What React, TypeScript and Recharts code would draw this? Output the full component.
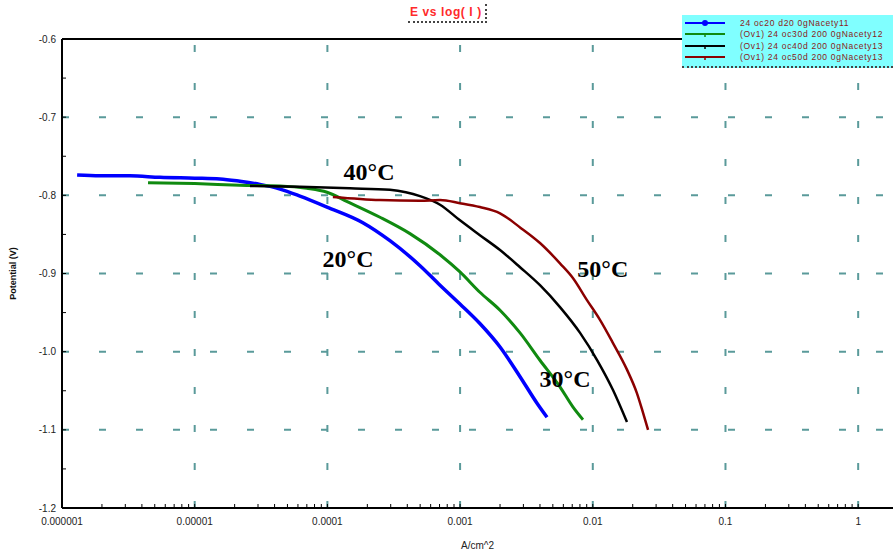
import React from 'react';
import { LineChart, Line, XAxis, YAxis, ReferenceLine, ReferenceDot } from 'recharts';

// current density (A/cm^2) and potential (V) per temperature
const t20Current = [1.3e-6, 1.93e-6, 3.25e-6, 5.48e-6, 1.0e-5, 1.55e-5, 2.19e-5, 3.1e-5, 4.4e-5, 6.21e-5, 9.93e-5, 1.85e-4, 2.96e-4, 4.99e-4, 7.06e-4, 9.98e-4, 1.41e-3, 2.0e-3, 2.83e-3, 3.8e-3, 4.52e-3];
const t20Potential = [-0.774, -0.775, -0.775, -0.777, -0.778, -0.779, -0.782, -0.786, -0.792, -0.801, -0.815, -0.835, -0.858, -0.89, -0.915, -0.939, -0.964, -0.994, -1.032, -1.066, -1.084];

const t30Current = [4.45e-6, 1.0e-5, 2.19e-5, 4.4e-5, 7.0e-5, 9.93e-5, 1.41e-4, 2.49e-4, 4.19e-4, 7.06e-4, 9.98e-4, 1.41e-3, 2.0e-3, 2.83e-3, 4.0e-3, 5.66e-3, 7.1e-3, 8.43e-3];
const t30Potential = [-0.784, -0.785, -0.787, -0.788, -0.791, -0.796, -0.808, -0.828, -0.849, -0.876, -0.898, -0.924, -0.947, -0.976, -1.011, -1.045, -1.071, -1.087];

const t40Current = [2.61e-5, 6.21e-5, 1.48e-4, 2.96e-4, 3.9e-4, 4.99e-4, 7.06e-4, 9.98e-4, 1.41e-3, 2.0e-3, 2.83e-3, 4.0e-3, 5.66e-3, 8.02e-3, 1.08e-2, 1.42e-2, 1.81e-2];
const t40Potential = [-0.788, -0.789, -0.791, -0.793, -0.796, -0.801, -0.812, -0.832, -0.851, -0.87, -0.892, -0.915, -0.943, -0.976, -1.011, -1.049, -1.09];

const t50Current = [1.1e-4, 2.49e-4, 4.99e-4, 7.06e-4, 9.98e-4, 1.41e-3, 2.0e-3, 2.83e-3, 4.0e-3, 5.66e-3, 7.1e-3, 9.04e-3, 1.13e-2, 1.42e-2, 1.81e-2, 2.15e-2, 2.39e-2, 2.61e-2];
const t50Potential = [-0.802, -0.806, -0.807, -0.806, -0.81, -0.815, -0.823, -0.841, -0.861, -0.887, -0.906, -0.934, -0.959, -0.989, -1.023, -1.053, -1.078, -1.1];

const seriesNames = [
  '24 oc20 d20 0gNacety11',
  '(Ov1) 24 oc30d 200 0gNacety12',
  '(Ov1) 24 oc40d 200 0gNacety13',
  '(Ov1) 24 oc50d 200 0gNacety13',
];
const seriesColors = ['#0000ff', '#108a10', '#000000', '#8b0000'];

const decadeTicks = [1e-6, 1e-5, 1e-4, 1e-3, 1e-2, 1e-1, 1];
const decadeLabels = ['0.000001', '0.00001', '0.0001', '0.001', '0.01', '0.1', '1'];
const potentialTicks = [-0.6, -0.7, -0.8, -0.9, -1.0, -1.1, -1.2];

const tempLabels = ['40°C', '20°C', '50°C', '30°C'];
const tempLabelCurrent = [2.06e-4, 1.43e-4, 0.0119, 0.00618];
const tempLabelPotential = [-0.769, -0.881, -0.894, -1.034];

const toPoints = (cur: number[], pot: number[]) => cur.map((c, i) => ({ i: c, e: pot[i] }));
const seriesData = [
  toPoints(t20Current, t20Potential),
  toPoints(t30Current, t30Potential),
  toPoints(t40Current, t40Potential),
  toPoints(t50Current, t50Potential),
];

// minor ticks 2..9 inside each decade
const xTicks: number[] = [];
decadeTicks.forEach((d, k) => {
  xTicks.push(d);
  if (k < decadeTicks.length - 1) for (let m = 2; m <= 9; m++) xTicks.push(m * d);
});
const yTicks: number[] = [];
potentialTicks.forEach((p, k) => {
  yTicks.push(p);
  if (k < potentialTicks.length - 1) yTicks.push(p - 0.05);
});

const xFormatter = (v: number) => {
  const idx = decadeTicks.findIndex(d => Math.abs(v / d - 1) < 1e-6);
  return idx >= 0 ? decadeLabels[idx] : '';
};
const yFormatter = (v: number) =>
  potentialTicks.some(p => Math.abs(p - v) < 1e-6) ? v.toFixed(1) : '';

const FONT = '"Liberation Sans", Arial, sans-serif';
const gridStroke = '#5a9a9a';
const lineWidths = [3.5, 3, 2.5, 2.5];

export default function App() {
  return (
    <div style={{ position: 'absolute', left: 0, top: 0, width: 893, height: 554, background: '#fff', overflow: 'hidden' }}>
      <LineChart width={893} height={554} margin={{ top: 39, right: 0, bottom: 0, left: 0 }}>
        <XAxis
          dataKey="i"
          type="number"
          scale="log"
          domain={[1e-6, 1.83]}
          allowDataOverflow
          ticks={xTicks}
          interval={0}
          tickFormatter={xFormatter}
          height={46}
          tickSize={-4}
          tickMargin={14}
          tick={{ fill: '#222', fontSize: 10, fontFamily: FONT }}
          tickLine={{ stroke: '#000' }}
          axisLine={{ stroke: '#000', strokeWidth: 2 }}
          label={{ value: 'A/cm^2', position: 'insideBottom', offset: 5, fill: '#222', fontSize: 10, fontFamily: FONT }}
        />
        <YAxis
          type="number"
          domain={[-1.2, -0.6]}
          allowDataOverflow
          ticks={yTicks}
          interval={0}
          tickFormatter={yFormatter}
          width={62}
          tickSize={-4}
          tickMargin={10}
          tick={{ fill: '#222', fontSize: 10, fontFamily: FONT }}
          tickLine={{ stroke: '#000' }}
          axisLine={{ stroke: '#000', strokeWidth: 2 }}
          label={{
            value: 'Potential (V)',
            angle: -90,
            position: 'insideLeft',
            offset: 13,
            fill: '#111',
            fontSize: 9,
            fontWeight: 'bold',
            fontFamily: FONT,
            style: { textAnchor: 'middle' },
          }}
        />
        {potentialTicks.slice(1, -1).map(p => (
          <ReferenceLine key={'h' + p} y={p} stroke={gridStroke} strokeWidth={2} strokeDasharray="7 30" />
        ))}
        {decadeTicks.slice(1).map(d => (
          <ReferenceLine key={'v' + d} x={d} stroke={gridStroke} strokeWidth={2} strokeDasharray="7 31" />
        ))}
        <ReferenceLine y={-0.6} stroke="#000" strokeWidth={2} />
        {seriesData.map((data, k) => (
          <Line
            key={seriesNames[k]}
            data={data}
            dataKey="e"
            name={seriesNames[k]}
            type="monotone"
            stroke={seriesColors[k]}
            strokeWidth={lineWidths[k]}
            dot={false}
            isAnimationActive={false}
          />
        ))}
        {tempLabels.map((t, k) => (
          <ReferenceDot
            key={t}
            x={tempLabelCurrent[k]}
            y={tempLabelPotential[k]}
            r={0}
            fill="none"
            stroke="none"
            label={{
              value: t,
              position: 'center',
              fill: '#000',
              fontSize: 24,
              fontWeight: 'bold',
              fontFamily: '"Liberation Serif", "Times New Roman", serif',
            }}
          />
        ))}
      </LineChart>

      <div
        style={{
          position: 'absolute',
          left: 408,
          top: 4,
          padding: '1px 3px 1px 2px',
          fontFamily: FONT,
          fontSize: 12,
          fontWeight: 'bold',
          letterSpacing: 0.6,
          color: '#ff2a2a',
          borderRight: '2px dotted #444',
          borderBottom: '2px dotted #444',
          lineHeight: '15px',
        }}
      >
        E vs log( I )
      </div>

      <div
        style={{
          position: 'absolute',
          left: 682,
          top: 15,
          width: 215,
          height: 51,
          background: '#80ffff',
          borderBottom: '2px dotted #444',
        }}
      >
        {seriesNames.map((n, k) => (
          <div key={n} style={{ display: 'flex', alignItems: 'center', height: 11.5, marginTop: k === 0 ? 2 : 0 }}>
            <svg width={55} height={8} style={{ marginLeft: 3, flex: 'none' }}>
              <line x1={0} y1={4} x2={40} y2={4} stroke={seriesColors[k]} strokeWidth={2} />
              {k === 0 ? (
                <circle cx={20} cy={4} r={3} fill={seriesColors[k]} />
              ) : (
                <line x1={20} y1={4} x2={20} y2={7} stroke={seriesColors[k]} strokeWidth={1.5} />
              )}
            </svg>
            <span style={{ fontFamily: FONT, fontSize: 8.5, color: '#8b1a1a', whiteSpace: 'nowrap', letterSpacing: 0.7 }}>{n}</span>
          </div>
        ))}
      </div>
    </div>
  );
}
